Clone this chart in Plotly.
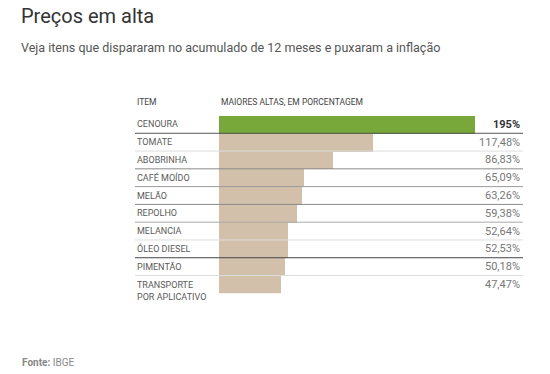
import plotly.graph_objects as go

items = ["CENOURA", "TOMATE", "ABOBRINHA", "CAFÉ MOÍDO", "MELÃO", "REPOLHO",
         "MELANCIA", "ÓLEO DIESEL", "PIMENTÃO", "TRANSPORTE<br>POR APLICATIVO"]
values = [195, 117.48, 86.83, 65.09, 63.26, 59.38, 52.64, 52.53, 50.18, 47.47]
highlight = [True] + [False] * 9

W, H = 550, 374
FONT = "Roboto"

def px_x(p):
    return p / W

def px_y(p):
    return 1 - p / H

def fmt(v):
    if float(v).is_integer():
        return f"{int(v)}%"
    return f"{v:.2f}".replace(".", ",") + "%"

cats = list(range(len(items)))
colors = ["#78a83a" if h else "#d3c0aa" for h in highlight]

fig = go.Figure(go.Bar(
    x=values, y=cats, orientation="h",
    marker=dict(color=colors, line=dict(width=0)),
    hoverinfo="skip",
))

fig.update_layout(
    width=W, height=H, margin=dict(l=0, r=0, t=0, b=0),
    paper_bgcolor="white", plot_bgcolor="rgba(0,0,0,0)",
    bargap=0, showlegend=False,
    xaxis=dict(domain=[px_x(219), px_x(475)], range=[0, 195], visible=False, fixedrange=True),
    yaxis=dict(domain=[px_y(293.3), px_y(115.5)], range=[len(items) - 0.5, -0.5],
               visible=False, fixedrange=True),
    font=dict(family=FONT),
)

# separator lines
sep_colors = ["#555555", "#dddddd", "#8a8a8a", "#9a9a9a", "#8a8a8a",
              "#aaaaaa", "#dddddd", "#444444", "#dddddd"]
for i, c in enumerate(sep_colors):
    fig.add_shape(type="line", xref="paper", yref="y",
                  x0=px_x(135), x1=px_x(523), y0=i + 0.5, y1=i + 0.5,
                  line=dict(color=c, width=1), layer="above")

# row labels and values
for i, (lab, v, h) in enumerate(zip(items, values, highlight)):
    two = "<br>" in lab
    fig.add_annotation(x=px_x(135), xref="paper", y=i, yref="y",
                       text=lab, showarrow=False, xanchor="left", yanchor="middle",
                       align="left", yshift=-7 if two else 0,
                       font=dict(size=9, color="#5a5a5a", family=FONT))
    fig.add_annotation(x=px_x(522), xref="paper", y=i, yref="y",
                       text=f"<b>{fmt(v)}</b>" if h else fmt(v),
                       showarrow=False, xanchor="right", yanchor="middle",
                       font=dict(size=11, color="#333333" if h else "#777777", family=FONT))

# headers
fig.add_annotation(x=px_x(135), y=px_y(102), xref="paper", yref="paper", text="ITEM",
                   showarrow=False, xanchor="left", yanchor="middle",
                   font=dict(size=8.5, color="#444444", family=FONT))
fig.add_annotation(x=px_x(219), y=px_y(102), xref="paper", yref="paper",
                   text="MAIORES ALTAS, EM PORCENTAGEM",
                   showarrow=False, xanchor="left", yanchor="middle",
                   font=dict(size=8.5, color="#444444", family=FONT))

# title, subtitle, source
fig.add_annotation(x=px_x(19), y=px_y(16), xref="paper", yref="paper", text="Preços em alta",
                   showarrow=False, xanchor="left", yanchor="middle",
                   font=dict(size=20, color="#333333", family=FONT))
fig.add_annotation(x=px_x(19), y=px_y(47), xref="paper", yref="paper",
                   text="Veja itens que dispararam no acumulado de 12 meses e puxaram a inflação",
                   showarrow=False, xanchor="left", yanchor="middle",
                   font=dict(size=12.5, color="#555555", family=FONT))
fig.add_annotation(x=px_x(20), y=px_y(362), xref="paper", yref="paper",
                   text="<b>Fonte:</b> IBGE",
                   showarrow=False, xanchor="left", yanchor="middle",
                   font=dict(size=10, color="#888888", family=FONT))

fig.write_html("out.html", config={"displayModeBar": False},
               post_script="document.body.style.margin='0';document.body.style.overflow='hidden';")
